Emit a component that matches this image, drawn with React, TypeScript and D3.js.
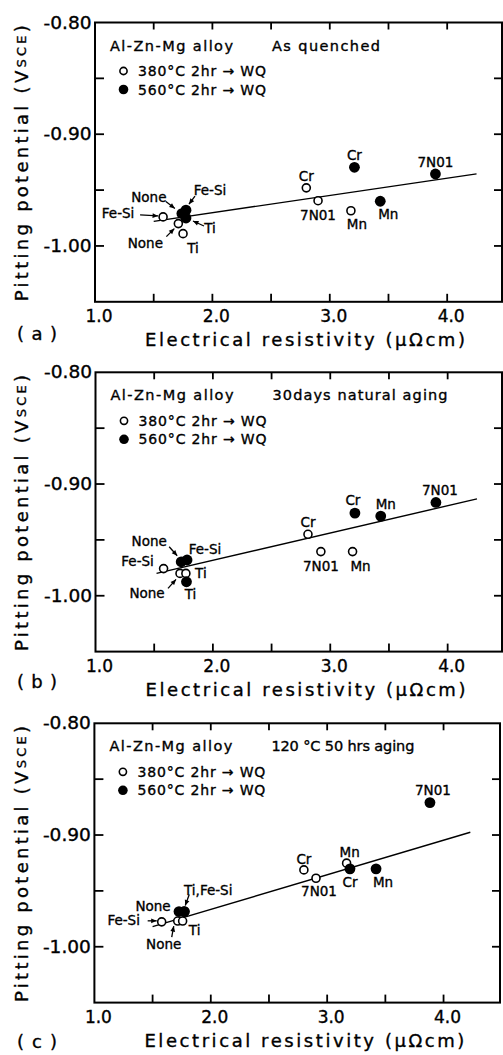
import React from 'react';
import * as d3 from 'd3';

// Alloy additions, same order for every series below
const ALLOYS = ['None', 'Fe-Si', 'Ti', 'Cr', 'Mn', '7N01'];

// (a) As quenched
const quenched380Resistivity = [1.71, 1.58, 1.75, 2.80, 3.18, 2.90];
const quenched380Potential = [-0.980, -0.974, -0.989, -0.948, -0.9685, -0.9595];
const quenched560Resistivity = [1.74, 1.775, 1.775, 3.21, 3.43, 3.90];
const quenched560Potential = [-0.971, -0.968, -0.975, -0.9296, -0.960, -0.9356];
const quenchedFitResistivity = [1.50, 4.25];
const quenchedFitPotential = [-0.978, -0.9355];

// (b) 30 days natural aging
const natural380Resistivity = [1.72, 1.58, 1.77, 2.81, 3.19, 2.92];
const natural380Potential = [-0.980, -0.9757, -0.980, -0.945, -0.9605, -0.9605];
const natural560Resistivity = [1.73, 1.78, 1.775, 3.21, 3.43, 3.90];
const natural560Potential = [-0.9696, -0.968, -0.9875, -0.926, -0.9287, -0.9165];
const naturalFitResistivity = [1.52, 4.25];
const naturalFitPotential = [-0.980, -0.9133];

// (c) 120 °C 50 hrs aging
const artificial380Resistivity = [1.716, 1.578, 1.758, 2.80, 3.167, 2.904];
const artificial380Potential = [-0.977, -0.9777, -0.977, -0.9312, -0.9252, -0.9387];
const artificial560Resistivity = [1.727, 1.772, 1.772, 3.196, 3.42, 3.883];
const artificial560Potential = [-0.9685, -0.9685, -0.9685, -0.9303, -0.9303, -0.871];
const artificialFitResistivity = [1.50, 4.23];
const artificialFitPotential = [-0.982, -0.8975];

// Axis ticks
const xTickValues = [1.5, 2.0, 2.5, 3.0, 3.5, 4.0];
const xTickLabels = [1.0, 2.0, 3.0, 4.0];
const yTickValues = [-0.85, -0.9, -0.95, -1.0];
const yTickLabels = [-0.8, -0.9, -1.0];

const LEGEND_380 = '380°C 2hr → WQ';
const LEGEND_560 = '560°C 2hr → WQ';

type Note = {
  series: 'open' | 'filled';
  alloy: string;
  text: string;
  at: [number, number];
  arrow?: [number, number, number, number];
};

// Label placement relative to each marker (px)
const notesA: Note[] = [
  { series: 'open', alloy: 'None', text: 'None', at: [-33, 19], arrow: [-12, 13, -4, 5] },
  { series: 'open', alloy: 'Fe-Si', text: 'Fe-Si', at: [-45, -4], arrow: [-23, -2, -5, -1] },
  { series: 'open', alloy: 'Ti', text: 'Ti', at: [10, 14] },
  { series: 'open', alloy: 'Cr', text: 'Cr', at: [0, -12] },
  { series: 'open', alloy: 'Mn', text: 'Mn', at: [6, 13] },
  { series: 'open', alloy: '7N01', text: '7N01', at: [0, 14] },
  { series: 'filled', alloy: 'None', text: 'None', at: [-33, -17], arrow: [-16, -12, -7, -5] },
  { series: 'filled', alloy: 'Fe-Si', text: 'Fe-Si', at: [24, -20], arrow: [9, -14, 3, -6] },
  { series: 'filled', alloy: 'Ti', text: 'Ti', at: [24, 10], arrow: [18, 8, 7, 3] },
  { series: 'filled', alloy: 'Cr', text: 'Cr', at: [0, -12] },
  { series: 'filled', alloy: 'Mn', text: 'Mn', at: [8, 13] },
  { series: 'filled', alloy: '7N01', text: '7N01', at: [0, -12] },
];

const notesB: Note[] = [
  { series: 'open', alloy: 'None', text: 'None', at: [-33, 20], arrow: [-12, 15, -4, 6] },
  { series: 'open', alloy: 'Fe-Si', text: 'Fe-Si', at: [-26, -8] },
  { series: 'open', alloy: 'Ti', text: 'Ti', at: [15, 0] },
  { series: 'open', alloy: 'Cr', text: 'Cr', at: [0, -12] },
  { series: 'open', alloy: 'Mn', text: 'Mn', at: [8, 14] },
  { series: 'open', alloy: '7N01', text: '7N01', at: [0, 14] },
  { series: 'filled', alloy: 'None', text: 'None', at: [-32, -21], arrow: [-12, -15, -4, -6] },
  { series: 'filled', alloy: 'Fe-Si', text: 'Fe-Si', at: [18, -11] },
  { series: 'filled', alloy: 'Ti', text: 'Ti', at: [4, 12] },
  { series: 'filled', alloy: 'Cr', text: 'Cr', at: [-2, -13] },
  { series: 'filled', alloy: 'Mn', text: 'Mn', at: [5, -12] },
  { series: 'filled', alloy: '7N01', text: '7N01', at: [4, -12] },
];

const notesC: Note[] = [
  { series: 'open', alloy: 'None', text: 'None', at: [-14, 23], arrow: [-6, 16, -4, 5] },
  { series: 'open', alloy: 'Fe-Si', text: 'Fe-Si', at: [-38, -2], arrow: [-14, -1, -5, -1] },
  { series: 'open', alloy: 'Ti', text: 'Ti', at: [12, 9] },
  { series: 'open', alloy: 'Cr', text: 'Cr', at: [0, -11] },
  { series: 'open', alloy: 'Mn', text: 'Mn', at: [3, -11] },
  { series: 'open', alloy: '7N01', text: '7N01', at: [3, 13] },
  { series: 'filled', alloy: 'None', text: 'None', at: [-26, -6] },
  { series: 'filled', alloy: 'Fe-Si', text: 'Ti,Fe-Si', at: [24, -22], arrow: [5, -17, 1, -6] },
  { series: 'filled', alloy: 'Cr', text: 'Cr', at: [0, 13] },
  { series: 'filled', alloy: 'Mn', text: 'Mn', at: [7, 13] },
  { series: 'filled', alloy: '7N01', text: '7N01', at: [3, -13] },
];

type Panel = {
  tag: string;
  condition: string;
  conditionLen: number;
  open: [number[], number[]];
  filled: [number[], number[]];
  fit: [number[], number[]];
  notes: Note[];
  left: number;
  right: number;
  top: number;
  bottom: number;
  xMax: number;
  tagY: number;
};

const panels: Panel[] = [
  {
    tag: '(a)', condition: 'As quenched', conditionLen: 108,
    open: [quenched380Resistivity, quenched380Potential],
    filled: [quenched560Resistivity, quenched560Potential],
    fit: [quenchedFitResistivity, quenchedFitPotential],
    notes: notesA, left: 95, right: 502, top: 22.5, bottom: 301.8, xMax: 4.467, tagY: 333,
  },
  {
    tag: '( b )', condition: '30days natural aging', conditionLen: 175,
    open: [natural380Resistivity, natural380Potential],
    filled: [natural560Resistivity, natural560Potential],
    fit: [naturalFitResistivity, naturalFitPotential],
    notes: notesB, left: 95.5, right: 502, top: 372.3, bottom: 651.6, xMax: 4.463, tagY: 681,
  },
  {
    tag: '( c )', condition: '120 °C 50 hrs aging', conditionLen: 143,
    open: [artificial380Resistivity, artificial380Potential],
    filled: [artificial560Resistivity, artificial560Potential],
    fit: [artificialFitResistivity, artificialFitPotential],
    notes: notesC, left: 94.4, right: 500, top: 723.3, bottom: 1002.6, xMax: 4.485, tagY: 1041,
  },
];

const FONT = '"DejaVu Sans", "Open Sans", sans-serif';
// Slight outline thickens the glyphs to the weight of the printed lettering
const TXT = { fontFamily: FONT, fill: '#000', stroke: '#000', strokeWidth: 0.35 };

function arrowHead(x1: number, y1: number, x2: number, y2: number) {
  const a = Math.atan2(y2 - y1, x2 - x1);
  const len = 5.5;
  const w = 2.4;
  const bx = x2 - len * Math.cos(a);
  const by = y2 - len * Math.sin(a);
  const px = -Math.sin(a) * w;
  const py = Math.cos(a) * w;
  return `M${x2},${y2}L${bx + px},${by + py}L${bx - px},${by - py}Z`;
}

function ChartPanel({ p }: { p: Panel }) {
  const x = d3.scaleLinear().domain([1.0, p.xMax]).range([p.left, p.right]);
  const y = d3.scaleLinear().domain([-0.8, -1.05]).range([p.top, p.bottom]);
  const fitLine = d3
    .line<number>()
    .x((_, i) => x(p.fit[0][i]))
    .y((_, i) => y(p.fit[1][i]));
  const midY = (p.top + p.bottom) / 2;
  const pos = (series: 'open' | 'filled', alloy: string): [number, number] => {
    const idx = ALLOYS.indexOf(alloy);
    const s = series === 'open' ? p.open : p.filled;
    return [x(s[0][idx]), y(s[1][idx])];
  };

  return (
    <g>
      {/* frame */}
      <rect x={p.left} y={p.top} width={p.right - p.left} height={p.bottom - p.top}
        fill="none" stroke="#000" strokeWidth={2} />
      {/* inward ticks on all four sides */}
      {xTickValues.map((v) => (
        <g key={'xt' + v}>
          <line x1={x(v)} x2={x(v)} y1={p.bottom} y2={p.bottom - 8} stroke="#000" strokeWidth={1.8} />
          <line x1={x(v)} x2={x(v)} y1={p.top} y2={p.top + 7} stroke="#000" strokeWidth={1.8} />
        </g>
      ))}
      {yTickValues.map((v) => (
        <g key={'yt' + v}>
          <line x1={p.left} x2={p.left + 9} y1={y(v)} y2={y(v)} stroke="#000" strokeWidth={1.8} />
          <line x1={p.right} x2={p.right - 8} y1={y(v)} y2={y(v)} stroke="#000" strokeWidth={1.8} />
        </g>
      ))}
      {xTickLabels.map((v) => (
        <text key={'xl' + v} x={x(v) + 4} y={p.bottom + 14} fontSize={17} textAnchor="middle"
          dominantBaseline="central" {...TXT}>{v.toFixed(1)}</text>
      ))}
      {yTickLabels.map((v) => (
        <text key={'yl' + v} x={p.left - 3.5} y={y(v)} fontSize={17} textAnchor="end"
          dominantBaseline="central" {...TXT} textLength={48} lengthAdjust="spacingAndGlyphs">
          {'-' + Math.abs(v).toFixed(2)}
        </text>
      ))}
      {/* axis titles */}
      <text x={p.left + 210} y={p.bottom + 38} fontSize={18} textAnchor="middle" dominantBaseline="central"
        {...TXT} textLength={320} lengthAdjust="spacing">Electrical resistivity (μΩcm)</text>
      <text transform={`translate(21,${midY + 1}) rotate(-90)`} fontSize={18} textAnchor="middle"
        dominantBaseline="central" {...TXT} textLength={276} lengthAdjust="spacing">
        Pitting potential (V<tspan fontSize={13}>SCE</tspan>)
      </text>
      <text x={37} y={p.tagY} fontSize={18} textAnchor="middle" dominantBaseline="central"
        {...TXT} textLength={40} lengthAdjust="spacing">{p.tag}</text>

      {/* heading and legend */}
      <text x={p.left + 15} y={p.top + 23} fontSize={14.5} dominantBaseline="central" {...TXT}
        textLength={123} lengthAdjust="spacing">Al-Zn-Mg alloy</text>
      <text x={p.left + 177} y={p.top + 23} fontSize={14.5} dominantBaseline="central" {...TXT}
        textLength={p.conditionLen} lengthAdjust="spacing">{p.condition}</text>
      <circle cx={p.left + 28.5} cy={p.top + 48.5} r={3.6} fill="#fff" stroke="#000" strokeWidth={1.6} />
      <text x={p.left + 43} y={p.top + 48.5} fontSize={14} dominantBaseline="central" {...TXT}
        textLength={128} lengthAdjust="spacing">{LEGEND_380}</text>
      <circle cx={p.left + 28.5} cy={p.top + 67} r={4.8} fill="#000" />
      <text x={p.left + 43} y={p.top + 67} fontSize={14} dominantBaseline="central" {...TXT}
        textLength={128} lengthAdjust="spacing">{LEGEND_560}</text>

      {/* regression line */}
      <path d={fitLine(p.fit[0]) || ''} fill="none" stroke="#000" strokeWidth={1.4} />

      {/* 380 °C series: open circles */}
      {ALLOYS.map((a, i) => (
        <circle key={'o' + a} cx={x(p.open[0][i])} cy={y(p.open[1][i])} r={4}
          fill="#fff" stroke="#000" strokeWidth={1.6} />
      ))}
      {/* 560 °C series: filled circles */}
      {ALLOYS.map((a, i) => (
        <circle key={'f' + a} cx={x(p.filled[0][i])} cy={y(p.filled[1][i])} r={5.4} fill="#000" />
      ))}

      {/* alloy labels */}
      {p.notes.map((n, i) => {
        const [cx, cy] = pos(n.series, n.alloy);
        return (
          <g key={'n' + i}>
            <text x={cx + n.at[0]} y={cy + n.at[1]} fontSize={13.5} textAnchor="middle"
              dominantBaseline="central" {...TXT}>{n.text}</text>
            {n.arrow && (
              <g>
                <line x1={cx + n.arrow[0]} y1={cy + n.arrow[1]} x2={cx + n.arrow[2]} y2={cy + n.arrow[3]}
                  stroke="#000" strokeWidth={1.3} />
                <path d={arrowHead(cx + n.arrow[0], cy + n.arrow[1], cx + n.arrow[2], cy + n.arrow[3])}
                  fill="#000" />
              </g>
            )}
          </g>
        );
      })}
    </g>
  );
}

export default function App() {
  return (
    <svg width={503} height={1055} viewBox="0 0 503 1055"
      style={{ position: 'absolute', left: 0, top: 0, background: '#fff' }}>
      <rect x={0} y={0} width={503} height={1055} fill="#fff" />
      {panels.map((p) => (
        <ChartPanel key={p.tag} p={p} />
      ))}
    </svg>
  );
}
